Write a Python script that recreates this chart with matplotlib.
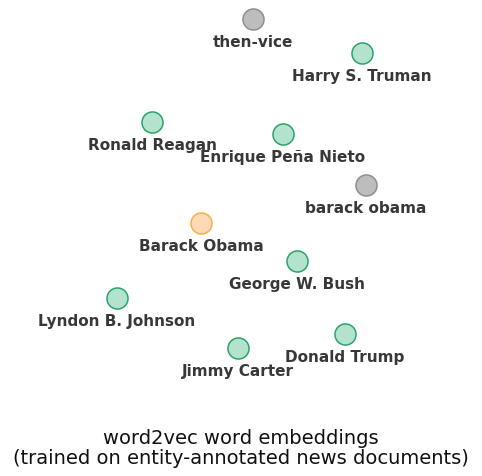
import matplotlib.pyplot as plt

# 2-D projected embedding coordinates
words = ["then-vice", "Harry S. Truman", "Ronald Reagan", "Enrique Peña Nieto",
         "barack obama", "Barack Obama", "George W. Bush", "Lyndon B. Johnson",
         "Donald Trump", "Jimmy Carter"]
xs = [253, 362, 152, 283, 366, 201, 297, 117, 345, 238]
ys = [19, 53, 122, 134, 185, 223, 261, 298, 334, 348]
kind = ["other", "entity", "entity", "entity", "other", "query",
        "entity", "entity", "entity", "entity"]

styles = {
    "entity": dict(fc="#b3e2cd", ec="#2ca36a"),
    "other": dict(fc="#bdbdbd", ec="#8f8f8f"),
    "query": dict(fc="#fdd9b5", ec="#f5b04f"),
}

fig = plt.figure(figsize=(4.82, 4.76), dpi=100)
ax = fig.add_axes([0, 0, 1, 1])
ax.set_xlim(0, 482)
ax.set_ylim(476, 0)
ax.axis("off")

for w, x, y, k in zip(words, xs, ys, kind):
    st = styles[k]
    ax.scatter([x], [y], s=230, facecolor=st["fc"], edgecolor=st["ec"], linewidth=1.1, zorder=3)
    ax.annotate(w, (x, y), xytext=(0, -17), textcoords="offset points",
                ha="center", va="center", fontsize=11, fontweight="bold", color="#383838")

fig.text(0.5, 0.058, "word2vec word embeddings\n(trained on entity-annotated news documents)",
         ha="center", va="center", fontsize=14, color="#111111", linespacing=1.05)

fig.savefig("out.png", dpi=100)
